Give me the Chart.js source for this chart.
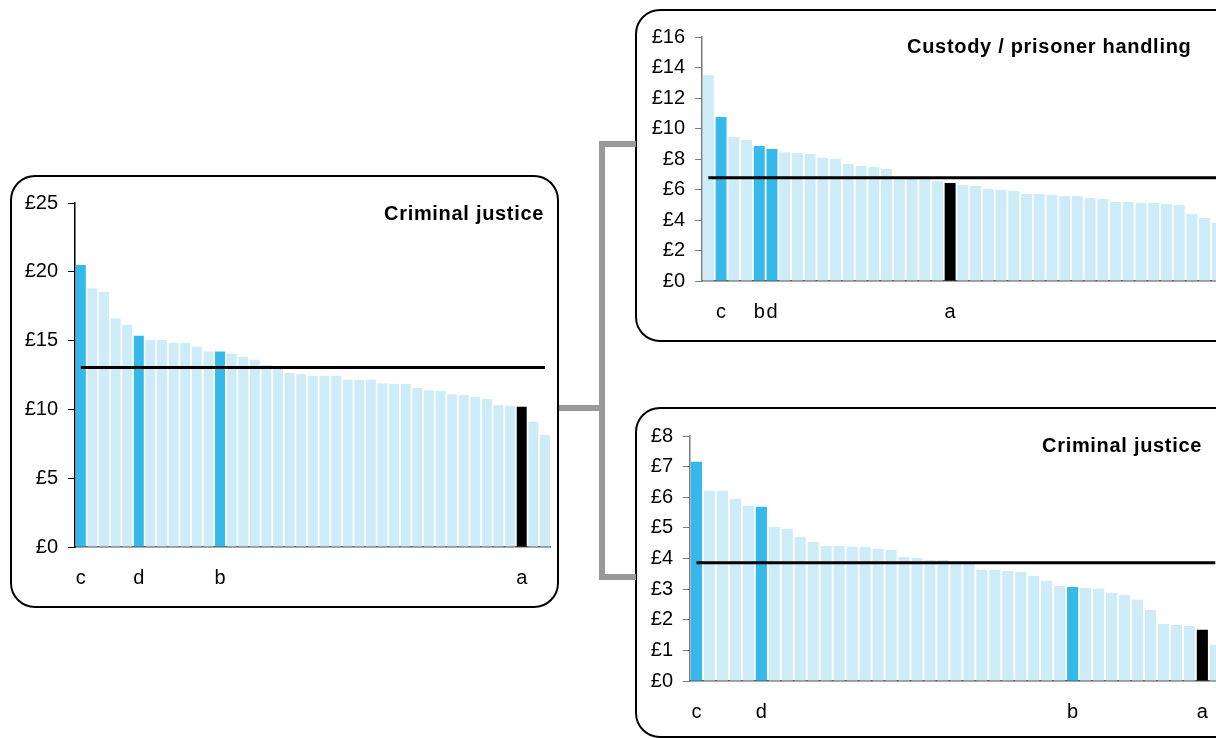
<!DOCTYPE html>
<html>
<head>
<meta charset="utf-8">
<script src="https://cdn.jsdelivr.net/npm/chart.js@4.4.1/dist/chart.umd.min.js"></script>
<style>
  html, body { margin: 0; padding: 0; background: #fff; }
  body { position: relative; width: 1216px; height: 738px; overflow: hidden; font-family: "Liberation Sans", Arial, sans-serif; }
  .box { position: absolute; border: 2.5px solid #000; border-radius: 25px; box-sizing: border-box; }
  .link { position: absolute; background: #999; }
  .title { position: absolute; font-weight: bold; font-size: 20px; line-height: 24px; letter-spacing: 0.7px; white-space: nowrap; color: #000; }
  canvas { position: absolute; }
</style>
</head>
<body>

<div class="box" style="left:10px; top:175px; width:549px; height:433px;"></div>
<div class="box" style="left:635px; top:9px; width:640px; height:333px;"></div>
<div class="box" style="left:635px; top:407px; width:640px; height:331px;"></div>

<!-- grey connector between the panels -->
<div class="link" style="left:559px; top:405px; width:45px; height:6px;"></div>
<div class="link" style="left:599px; top:141px; width:6px; height:439px;"></div>
<div class="link" style="left:599px; top:141px; width:37px; height:6px;"></div>
<div class="link" style="left:599px; top:574px; width:37px; height:6px;"></div>

<canvas id="cjLeft" width="552" height="428" style="left:12px; top:177px;"></canvas>
<canvas id="custody" width="600" height="328" style="left:638px; top:11px;"></canvas>
<canvas id="cjRight" width="600" height="325" style="left:638px; top:410px;"></canvas>

<div class="title" style="left:384px; top:201px;">Criminal justice</div>
<div class="title" style="left:907px; top:34px;">Custody / prisoner handling</div>
<div class="title" style="left:1042px; top:433px;">Criminal justice</div>

<script>
// Criminal justice (left panel), £ per head, sorted
const cjLeftValues = [20.5, 18.8, 18.55, 16.6, 16.15, 15.35, 15.05, 15.05, 14.85, 14.85,
  14.55, 14.2, 14.2, 14.05, 13.8, 13.6, 13.25, 13.05, 12.65, 12.55,
  12.45, 12.45, 12.45, 12.15, 12.15, 12.15, 11.9, 11.85, 11.85, 11.55,
  11.4, 11.35, 11.1, 11.05, 10.9, 10.75, 10.3, 10.25, 10.2, 9.1, 8.15];
const cjLeftMarks = { 0: "c", 5: "d", 12: "b", 38: "a" };
const cjLeftAverage = 13.05;
const cjLeftTicks = [0, 5, 10, 15, 20, 25];

// Custody / prisoner handling (top right)
const custodyValues = [13.5, 10.75, 9.45, 9.25, 8.85, 8.65, 8.45, 8.4, 8.33, 8.07,
  8.0, 7.67, 7.54, 7.48, 7.34, 6.8, 6.75, 6.72, 6.56, 6.43,
  6.3, 6.23, 6.03, 5.97, 5.9, 5.7, 5.7, 5.64, 5.57, 5.57,
  5.44, 5.38, 5.18, 5.18, 5.11, 5.11, 5.05, 4.98, 4.39, 4.13, 3.8];
const custodyMarks = { 1: "c", 4: "b", 5: "d", 19: "a" };
const custodyAverage = 6.77;
const custodyTicks = [0, 2, 4, 6, 8, 10, 12, 14, 16];

// Criminal justice (bottom right)
const cjRightValues = [7.16, 6.21, 6.21, 5.95, 5.72, 5.69, 5.03, 4.97, 4.71, 4.54,
  4.41, 4.41, 4.38, 4.38, 4.31, 4.28, 4.05, 4.02, 3.95, 3.95,
  3.9, 3.88, 3.63, 3.63, 3.59, 3.56, 3.43, 3.27, 3.1, 3.07,
  3.04, 3.01, 2.88, 2.81, 2.65, 2.32, 1.86, 1.83, 1.8, 1.67, 1.18];
const cjRightMarks = { 0: "c", 5: "d", 29: "b", 39: "a" };
const cjRightAverage = 3.86;
const cjRightTicks = [0, 1, 2, 3, 4, 5, 6, 7, 8];

const DARK = "#35b9ea";
const LIGHT = "#cdecf8";

Chart.defaults.font.family = '"Liberation Sans", Arial, sans-serif';
Chart.defaults.font.size = 20;
Chart.defaults.color = "#000";

// average line across the bars, drawn through the chart's scales
const avgLine = {
  id: "avgLine",
  afterDatasetsDraw(chart, args, opts) {
    const x = chart.scales.x, y = chart.scales.y;
    const n = chart.data.labels.length;
    const yy = y.getPixelForValue(opts.value);
    const ctx = chart.ctx;
    ctx.save();
    ctx.strokeStyle = "#000";
    ctx.lineWidth = 3;
    ctx.beginPath();
    ctx.moveTo(x.getPixelForValue(0), yy);
    ctx.lineTo(x.getPixelForValue(n - 1), yy);
    ctx.stroke();
    ctx.restore();
  }
};

function tegn(id, values, marks, average, ticks, cfg) {
  const labels = values.map((v, i) => marks[i] || "");
  const colors = labels.map(l => l === "a" ? "#000" : (l ? DARK : LIGHT));
  return new Chart(document.getElementById(id), {
    type: "bar",
    data: {
      labels: labels,
      datasets: [{
        data: values,
        backgroundColor: colors,
        borderWidth: 0,
        barPercentage: 0.86,
        categoryPercentage: 1
      }]
    },
    options: {
      responsive: false,
      animation: false,
      layout: { padding: { top: 26, right: cfg.padRight, left: 0, bottom: 0 } },
      plugins: {
        legend: { display: false },
        tooltip: { enabled: false },
        avgLine: { value: average }
      },
      scales: {
        x: {
          grid: { display: false, drawTicks: false },
          border: { display: true, color: cfg.xAxisColor, width: 1.5 },
          ticks: { autoSkip: false, maxRotation: 0, padding: 19 },
          afterFit: s => { s.height = cfg.xHeight; }
        },
        y: {
          min: ticks[0],
          max: ticks[ticks.length - 1],
          afterBuildTicks: s => { s.ticks = ticks.map(v => ({ value: v })); },
          grid: { drawOnChartArea: false, drawTicks: true, tickLength: 7, color: cfg.yAxisColor },
          border: { display: true, color: cfg.yAxisColor, width: 1.5 },
          ticks: { padding: 10, callback: v => "£" + v },
          afterFit: s => { s.width = cfg.yWidth; }
        }
      }
    },
    plugins: [avgLine]
  });
}

tegn("cjLeft", cjLeftValues, cjLeftMarks, cjLeftAverage, cjLeftTicks,
  { padRight: 6.4, yWidth: 63, xHeight: 58, yAxisColor: "#000", xAxisColor: "#555" });
tegn("custody", custodyValues, custodyMarks, custodyAverage, custodyTicks,
  { padRight: 14.3, yWidth: 64, xHeight: 58, yAxisColor: "#7a7a7a", xAxisColor: "#555" });
tegn("cjRight", cjRightValues, cjRightMarks, cjRightAverage, cjRightTicks,
  { padRight: 16.2, yWidth: 52, xHeight: 54, yAxisColor: "#7a7a7a", xAxisColor: "#555" });
</script>
</body>
</html>
